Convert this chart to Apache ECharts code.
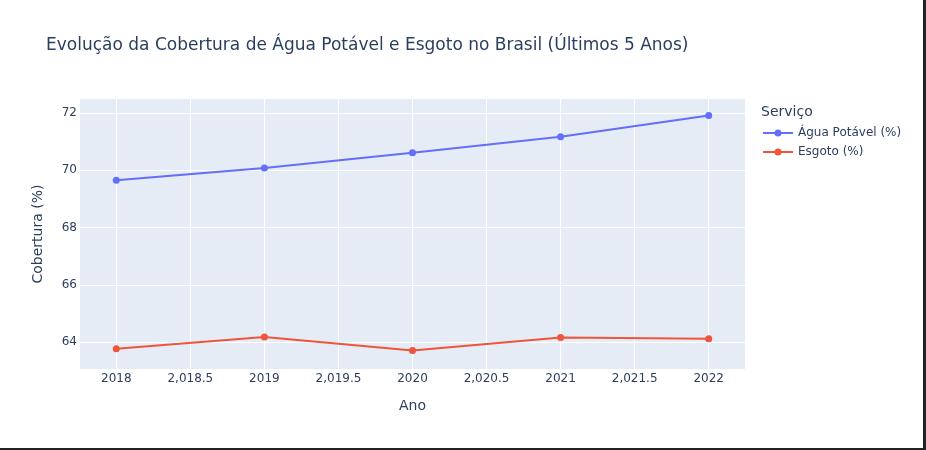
<!DOCTYPE html>
<html>
<head>
<meta charset="utf-8">
<script src="https://cdn.jsdelivr.net/npm/echarts@6/dist/echarts.min.js"></script>
<style>
html,body{margin:0;padding:0;background:#fff;}
#wrap{position:relative;width:926px;height:450px;overflow:hidden;}
#chart{position:absolute;left:0;top:0;width:926px;height:450px;}
#edgeR{position:absolute;left:923px;top:0;width:3px;height:450px;background:#232323;}
#edgeB{position:absolute;left:0;top:448px;width:926px;height:2px;background:#232323;}
</style>
</head>
<body>
<div id="wrap"><div id="chart"></div><div id="edgeR"></div><div id="edgeB"></div></div>
<script>
const years = [2018, 2019, 2020, 2021, 2022];
const aguaPotavel = [69.65, 70.08, 70.61, 71.17, 71.91];
const esgoto = [63.77, 64.18, 63.71, 64.16, 64.12];
const xTickValues = [2018, 2018.5, 2019, 2019.5, 2020, 2020.5, 2021, 2021.5, 2022];
const xTickLabels = ["2018", "2,018.5", "2019", "2,019.5", "2020", "2,020.5", "2021", "2,021.5", "2022"];
const yTickValues = [64, 66, 68, 70, 72];
const seriesNames = ["Água Potável (%)", "Esgoto (%)"];

const font = "'DejaVu Sans', Verdana, sans-serif";
const textColor = '#2a3f5f';

const chart = echarts.init(document.getElementById('chart'), null, {renderer: 'canvas'});
chart.setOption({
  animation: false,
  backgroundColor: '#fff',
  title: {
    text: 'Evolução da Cobertura de Água Potável e Esgoto no Brasil (Últimos 5 Anos)',
    left: 41, top: 32,
    textStyle: {fontFamily: font, fontSize: 17, fontWeight: 'normal', color: textColor}
  },
  legend: {
    orient: 'vertical',
    left: 758, top: 122,
    itemWidth: 30, itemHeight: 7, itemGap: 7,
    icon: 'path://M0,2.5 L30,2.5 L30,4.5 L0,4.5 Z M18.5,3.5 A3.5,3.5 0 1,1 11.5,3.5 A3.5,3.5 0 1,1 18.5,3.5 Z',
    textStyle: {fontFamily: font, fontSize: 12, color: textColor},
    data: seriesNames
  },
  graphic: [{
    type: 'text', left: 761, top: 105,
    style: {text: 'Serviço', font: "14px 'DejaVu Sans', Verdana, sans-serif", fill: textColor}
  }],
  grid: {left: 80, right: 181, top: 99, bottom: 81, containLabel: false,
         show: true, backgroundColor: '#E5ECF6', borderWidth: 0},
  xAxis: {
    type: 'value', min: 2017.755, max: 2022.245,
    name: 'Ano', nameLocation: 'middle', nameGap: 30,
    nameTextStyle: {fontFamily: font, fontSize: 14, color: textColor},
    axisLine: {show: false}, axisTick: {show: false, customValues: xTickValues},
    axisLabel: {customValues: xTickValues, margin: 4, fontFamily: font, fontSize: 12, color: textColor,
      formatter: function (v) { const i = xTickValues.indexOf(v); return i >= 0 ? xTickLabels[i] : ''; }},
    splitLine: {show: true, lineStyle: {color: '#ffffff', width: 1}}
  },
  yAxis: {
    type: 'value', min: 63.06, max: 72.49,
    name: 'Cobertura (%)', nameLocation: 'middle', nameGap: 35,
    nameTextStyle: {fontFamily: font, fontSize: 14, color: textColor},
    axisLine: {show: false}, axisTick: {show: false, customValues: yTickValues},
    axisLabel: {customValues: yTickValues, margin: 3, fontFamily: font, fontSize: 12, color: textColor,
      formatter: function (v) { return String(v); }},
    splitLine: {show: true, lineStyle: {color: '#ffffff', width: 1}}
  },
  series: [
    {name: seriesNames[0], type: 'line', data: years.map((y, i) => [y, aguaPotavel[i]]),
     symbol: 'circle', symbolSize: 7, itemStyle: {color: '#636efa'},
     lineStyle: {color: '#636efa', width: 2}},
    {name: seriesNames[1], type: 'line', data: years.map((y, i) => [y, esgoto[i]]),
     symbol: 'circle', symbolSize: 7, itemStyle: {color: '#EF553B'},
     lineStyle: {color: '#EF553B', width: 2}}
  ]
});
</script>
</body>
</html>
